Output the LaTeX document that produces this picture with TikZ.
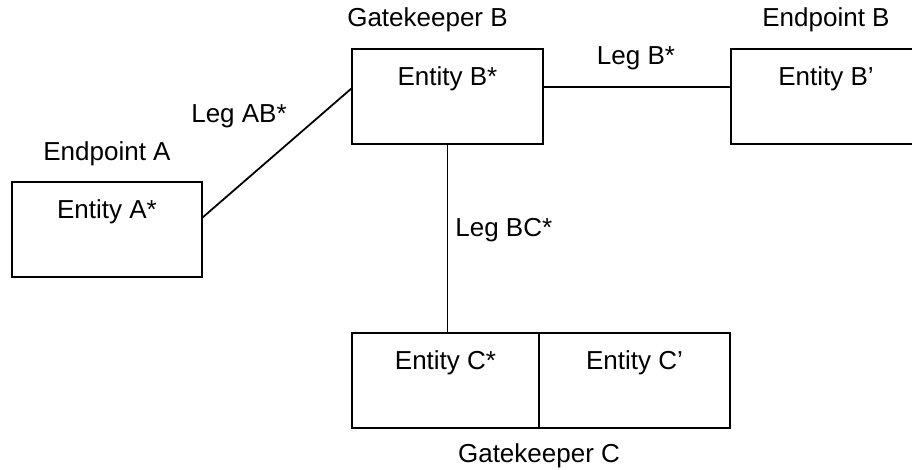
\documentclass[tikz,border=0pt]{standalone}
\usepackage{fontspec}
\setmainfont{Liberation Sans}
\usetikzlibrary{positioning,calc}

\begin{document}
\begin{tikzpicture}[x=0.5pt,y=0.5pt]

  \tikzstyle{box} = [draw, rectangle, minimum height=47.5pt, line width=0.9pt, inner sep=0pt, outer sep=0pt]
  \tikzstyle{txt} = [font=\fontsize{13pt}{15pt}\selectfont, inner sep=0pt, anchor=base]
  \tikzstyle{leg} = [-, color=black, line width=0.9pt]

  \useasboundingbox (0,0) rectangle (912,470);
  \clip (0,0) rectangle (912,470);

  % boxes
  \node[box, minimum width=95pt] (boxA) at (107,240.5) {};
  \node[box, minimum width=95.5pt] (boxB) at (447.5,373.5) {};
  \node[box, minimum width=95pt] (boxBp) at (826,373.5) {};
  \node[box, minimum width=93.5pt] (boxCs) at (445.5,89.5) {};
  \node[box, minimum width=95.5pt, right=0pt of boxCs] (boxCp) {};

  % entities
  \node[txt] (entA) at ([yshift=-18.5pt]boxA.north) {Entity A*};
  \node[txt] (entB) at ([yshift=-18.5pt]boxB.north) {Entity B*};
  \node[txt] (entBp) at ([yshift=-18.5pt]boxBp.north) {Entity B’};
  \node[txt] (entCs) at ([yshift=-18.5pt]boxCs.north) {Entity C*};
  \node[txt] (entCp) at ([yshift=-18.5pt]boxCp.north) {Entity C’};

  % owners
  \node[txt] (endA) at ([yshift=10.5pt]boxA.north) {Endpoint A};
  \node[txt] (gkB) at ([xshift=-10pt,yshift=11pt]boxB.north) {Gatekeeper B};
  \node[txt] (endB) at ([yshift=11pt]boxBp.north) {Endpoint B};
  \node[txt] (gkC) at ([yshift=-17.5pt]boxCs.south east) {Gatekeeper C};

  % legs
  \draw[leg] ([yshift=5.75pt]boxA.east) -- ([yshift=4.25pt]boxB.west);
  \draw[leg] ([yshift=4.75pt]boxB.east) -- ([yshift=4.75pt]boxBp.west);
  \draw[leg] (boxB.south) -- (boxB.south |- boxCs.north);

  \node[txt] (legAB) at (239,347) {Leg AB*};
  \node[txt] (legB) at (636,405) {Leg B*};
  \node[txt, anchor=base west] (legBC) at (455,233) {Leg BC*};

\end{tikzpicture}
\end{document}
